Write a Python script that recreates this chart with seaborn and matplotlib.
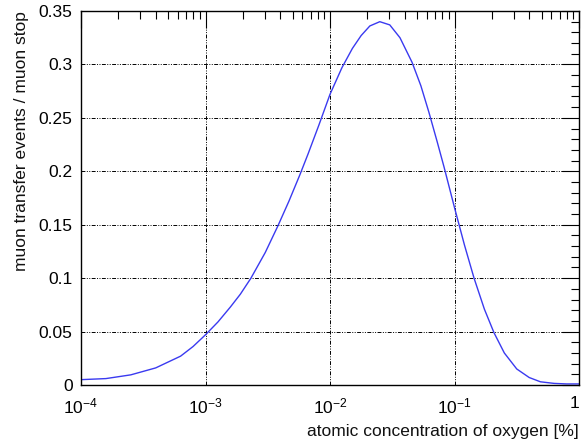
import numpy as np
import pandas as pd
import matplotlib
matplotlib.use('Agg')
import matplotlib.pyplot as plt
import seaborn as sns
from matplotlib.ticker import LogLocator, MultipleLocator, FixedLocator

# values (log10 of concentration in %, transfer events per muon stop)
log_conc = [-4.0, -3.8, -3.6, -3.4, -3.2, -3.1, -3.0, -2.9, -2.8, -2.72, -2.635,
            -2.52, -2.418, -2.33, -2.241, -2.177, -2.09, -2.0, -1.904, -1.82, -1.75,
            -1.68, -1.6, -1.52, -1.438, -1.341, -1.27, -1.205, -1.14, -1.084, -1.0,
            -0.92, -0.843, -0.76, -0.683, -0.6, -0.5, -0.4, -0.31, -0.2, -0.1, 0.0]
transfer = [0.005, 0.006, 0.0095, 0.016, 0.027, 0.036, 0.047, 0.059, 0.073, 0.085, 0.100,
            0.124, 0.149, 0.172, 0.197, 0.216, 0.243, 0.272, 0.297, 0.315, 0.327,
            0.336, 0.340, 0.337, 0.325, 0.302, 0.280, 0.255, 0.228, 0.204, 0.166,
            0.131, 0.100, 0.071, 0.049, 0.030, 0.015, 0.007, 0.003, 0.0015, 0.001, 0.001]

xtick_vals = [1e-4, 1e-3, 1e-2, 1e-1, 1]
xtick_labels = ['$10^{-4}$', '$10^{-3}$', '$10^{-2}$', '$10^{-1}$', '1']
ytick_vals = [0, 0.05, 0.1, 0.15, 0.2, 0.25, 0.3, 0.35]
ytick_labels = ['0', '0.05', '0.1', '0.15', '0.2', '0.25', '0.3', '0.35']

df = pd.DataFrame({'conc': np.power(10.0, log_conc), 'frac': transfer})

sns.set_theme(style='white')
plt.rcParams['font.family'] = ['Liberation Sans', 'DejaVu Sans']
plt.rcParams['mathtext.fontset'] = 'custom'
plt.rcParams['mathtext.rm'] = 'Liberation Sans'
plt.rcParams['mathtext.it'] = 'Liberation Sans'

fig = plt.figure(figsize=(5.82, 4.43), dpi=100)
ax = fig.add_axes([81 / 582, 58 / 443, 498 / 582, 374 / 443])

sns.lineplot(data=df, x='conc', y='frac', ax=ax, color='#3a3af0', linewidth=1.0)

ax.set_xscale('log')
ax.set_xlim(1e-4, 1)
ax.set_ylim(0, 0.35)

ax.xaxis.set_major_locator(FixedLocator(xtick_vals))
ax.set_xticks(xtick_vals)
ax.set_xticklabels(xtick_labels)
ax.xaxis.set_minor_locator(LogLocator(base=10, subs=np.arange(2, 10), numticks=20))
ax.set_yticks(ytick_vals)
ax.set_yticklabels(ytick_labels)
ax.yaxis.set_minor_locator(MultipleLocator(0.01))

ax.tick_params(which='both', direction='in', top=True, right=True, colors='black',
               labelsize=12.5, width=0.8)
ax.tick_params(which='major', length=12, pad=6)
ax.tick_params(which='minor', length=6)
ax.tick_params(axis='x', which='major', pad=8)
ax.get_xticklabels()[-1].set_horizontalalignment('right')

gs = (0, (4, 1.5, 1, 1.5, 1, 1.5))
ax.grid(True, which='major', color='black', linestyle=gs, linewidth=0.7)

for sp in ax.spines.values():
    sp.set_color('black')
    sp.set_linewidth(1.0)

ax.set_xlabel('atomic concentration of oxygen [%]', fontsize=12.5, color='#111111')
ax.set_ylabel('muon transfer events / muon stop', fontsize=12.5, color='#111111')
ax.xaxis.set_label_coords(1.0, -0.105)
ax.xaxis.label.set_horizontalalignment('right')
ax.yaxis.set_label_coords(-0.135, 1.0)
ax.yaxis.label.set_verticalalignment('top')
ax.yaxis.label.set_horizontalalignment('right')

fig.savefig('out.png', dpi=100)
